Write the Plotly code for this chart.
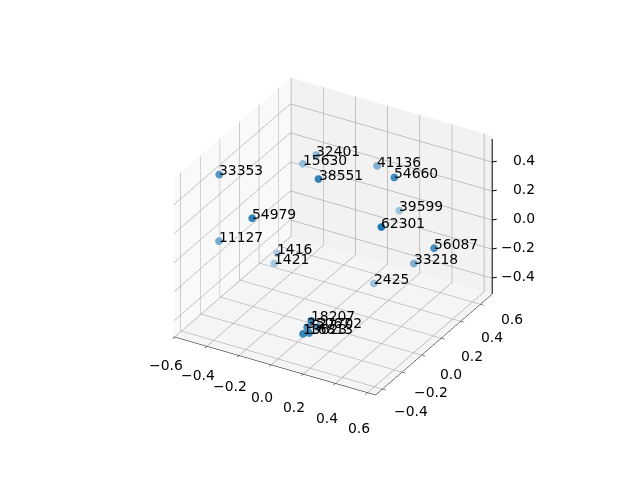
import plotly.graph_objects as go

labels = ["62301","54979","38551","54660","56087","33353","11127","33218","41136","2425",
          "15630","32401","39599","1416","1421","18207","35067","27702","13623","16813"]
xs = [0.450,-0.200,-0.015,0.333,0.619,-0.4986,-0.4468,0.4655,0.1308,0.2244,
      -0.28,-0.19,0.2133,-0.3053,-0.3054,0.202,0.1932,0.2438,0.1844,0.2107]
ys = [-0.0843,-0.336,0.0376,0.2407,0.1767,-0.1817,-0.2693,0.2222,0.397,0.2104,
      0.3138,0.3028,0.488,0.0942,0.0621,-0.3924,-0.42,-0.3909,-0.4475,-0.4292]
zs = [0.359,0.359,0.470,0.473,0.115,0.474,0.083,-0.066,0.397,-0.274,
      0.329,0.424,0.062,-0.168,-0.219,-0.186,-0.218,-0.218,-0.250,-0.246]
alphas = [1.0,0.9,0.9,0.85,0.8,0.75,0.6,0.55,0.55,0.4,0.45,0.5,0.4,0.35,0.35,0.9,0.8,0.8,0.9,0.85]
x_ticks = [-0.6,-0.4,-0.2,0.0,0.2,0.4,0.6]
y_ticks = [-0.4,-0.2,0.0,0.2,0.4,0.6]
z_ticks = [-0.4,-0.2,0.0,0.2,0.4]
x_range = [-0.605, 0.65]
y_range = [-0.47, 0.72]
z_range = [-0.51, 0.58]

def blend(a):
    c = [round(a*v + (1-a)*245) for v in (31,119,180)]
    return f"rgb({c[0]},{c[1]},{c[2]})"
colors = [blend(a) for a in alphas]
fmt = lambda t: f"{t:.1f}".replace("-", "\u2212")
FONT = dict(family="DejaVu Sans", size=13.9, color="black")

def axis(ticks, rng, bg, labelled=True):
    return dict(range=rng, tickmode="array", tickvals=ticks,
                title=dict(text=""), showbackground=True, backgroundcolor=bg,
                gridcolor="#b0b0b0", gridwidth=1.5, showline=labelled, linecolor="black", linewidth=1,
                ticks="outside" if labelled else "", ticklen=4, tickcolor="black", zeroline=False,
                showspikes=False, showticklabels=False, autorange=False)

fig = go.Figure(go.Scatter3d(
    x=xs, y=ys, z=zs, mode="markers",
    marker=dict(size=4.5, color=colors, line=dict(width=0)), hoverinfo="skip"))

annotations = []
for x, y, z, t in zip(xs, ys, zs, labels):
    annotations.append(dict(x=x, y=y, z=z, text=t, showarrow=False, xanchor="left", yanchor="bottom",
                            xshift=-2, yshift=-6, font=FONT))
for t in x_ticks:
    annotations.append(dict(x=t, y=y_range[0], z=z_range[0], text=fmt(t), showarrow=False,
                            xanchor="center", yanchor="middle", xshift=-9,
                            yshift=-28 - (t + 0.6) / 1.2 * 8, font=FONT))
for t in y_ticks:
    annotations.append(dict(x=x_range[1], y=t, z=z_range[0], text=fmt(t), showarrow=False,
                            xanchor="center", yanchor="middle", xshift=32 - (0.6 - t) * 4,
                            yshift=-15 - (0.6 - t) * 7, font=FONT))
xe, ye = x_range[1], y_range[1]
for t in z_ticks:
    annotations.append(dict(x=xe, y=ye, z=t, text=fmt(t), showarrow=False, xanchor="right",
                            yanchor="middle", xshift=45, yshift=2, font=FONT))
    annotations.append(dict(x=xe, y=ye, z=t, text=" ", showarrow=True, arrowhead=0, arrowwidth=1,
                            arrowcolor="black", ax=6, ay=-1, standoff=0, font=dict(size=1)))
annotations.append(dict(x=xe, y=ye, z=z_range[0], text=" ", showarrow=True, arrowhead=0, arrowwidth=1,
                        arrowcolor="black", ax=0, ay=-157, standoff=0, font=dict(size=1)))

fig.update_layout(
    width=640, height=480, margin=dict(l=0, r=0, t=0, b=0), paper_bgcolor="white", showlegend=False,
    scene=dict(
        domain=dict(x=[0.016, 1], y=[0.03, 1]),
        xaxis=axis(x_ticks, x_range, "#f9f9f9"),
        yaxis=axis(y_ticks, y_range, "#f2f2f2"),
        zaxis=axis(z_ticks, z_range, "#f5f5f5", labelled=False),
        aspectmode="manual", aspectratio=dict(x=1, y=1, z=0.784),
        camera=dict(eye=dict(x=0.875, y=-1.515, z=0.987), up=dict(x=0, y=0, z=1),
                    center=dict(x=0, y=0, z=-0.023), projection=dict(type="orthographic")),
        annotations=annotations,
    ))
fig.write_html("out.html")
